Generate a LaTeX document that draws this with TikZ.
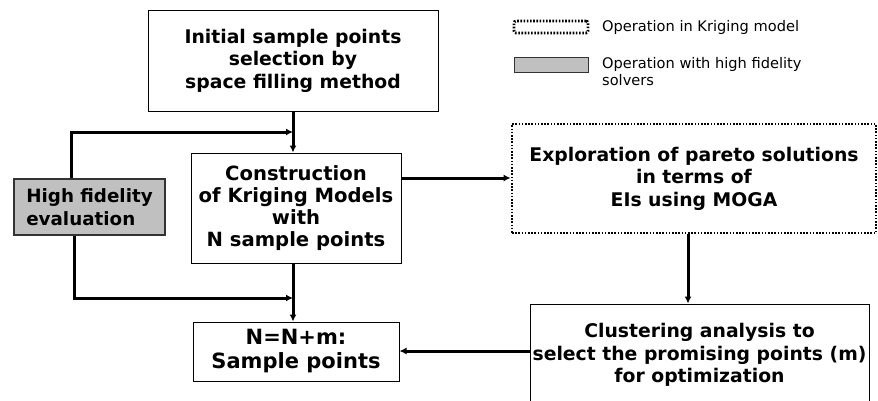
\documentclass[tikz,border=0pt]{standalone}
\usepackage{fontspec}
\setmainfont{DejaVu Sans}
\usetikzlibrary{positioning,arrows.meta}
\usepackage{xcolor}

\definecolor{hfgray}{RGB}{192,192,192}

\tikzset{
    procbox/.style={draw=black, line width=1pt, fill=white, align=center,
        font=\fontsize{18.8}{22.5}\selectfont\bfseries, inner sep=0pt},
    krigbox/.style={procbox, line width=2.8pt, dash pattern=on 1.6pt off 1.6pt},
    hfbox/.style={procbox, fill=hfgray, line width=2pt, draw=black!80, align=left},
    flow/.style={line width=3pt, -{Latex[length=7pt,width=7pt]}},
    legtext/.style={font=\fontsize{14.6}{17}\selectfont, anchor=west, align=left, inner sep=0pt}
}

\begin{document}
\begin{tikzpicture}[x=1pt,y=-1pt]
    \useasboundingbox (0,0) rectangle (878,400);
    \clip (0,0) rectangle (878,400);

    \node[procbox, minimum width=290pt, minimum height=101pt] (init) at (293,60.5)
        {Initial sample points\\selection by\\space filling method};
    \node[procbox, minimum width=210pt, minimum height=110pt,
        font=\fontsize{19.6}{22}\selectfont\bfseries] (cons) at (296,208)
        {Construction\\of Kriging Models\\with\\N sample points};
    \node[hfbox, minimum width=151pt, minimum height=56pt,
        font=\fontsize{18.3}{23}\selectfont\bfseries] (hf) at (89.5,207)
        {High fidelity\\evaluation};
    \node[procbox, minimum width=206pt, minimum height=59pt,
        font=\fontsize{21}{24}\selectfont\bfseries] (newn) at (296,351.5)
        {N=N+m:\\Sample points};
    \node[krigbox, minimum width=364pt, minimum height=109pt] (explore) at (694,178.5)
        {Exploration of pareto solutions\\in terms of\\EIs using MOGA};
    \node[procbox, minimum width=339pt, minimum height=102pt] (cluster) at (699.5,355)
        {Clustering analysis to\\select the promising points (m)\\for optimization};

    % legend
    \node[krigbox, rounded corners=2pt, minimum width=74pt, minimum height=12pt] (legkrig) at (551,27) {};
    \node[legtext] (legkrigtxt) at (602,27) {Operation in Kriging model};
    \node[hfbox, line width=0.8pt, minimum width=74pt, minimum height=15pt] (leghf) at (551,64.5) {};
    \node[legtext, anchor=north west] (leghftxt) at (602,57) {Operation with high fidelity\\solvers};

    \coordinate (jtop) at (293,132);
    \coordinate (jbot) at (293,298);

    \draw[flow] (init.south) -- (init.south |- cons.north);
    \draw[flow] ([xshift=-18.5pt]hf.north) |- (jtop);
    \draw[flow] (cons.east |- 0,178) -- (explore.west |- 0,178);
    \draw[flow] (jtop |- cons.south) -- (jtop |- newn.north);
    \draw[flow] ([xshift=-15.5pt]hf.south) |- (jbot);
    \draw[flow] (explore.south -| 688,0) -- (cluster.north -| 688,0);
    \draw[flow] (cluster.west |- 0,351) -- (newn.east |- 0,351);
\end{tikzpicture}
\end{document}
